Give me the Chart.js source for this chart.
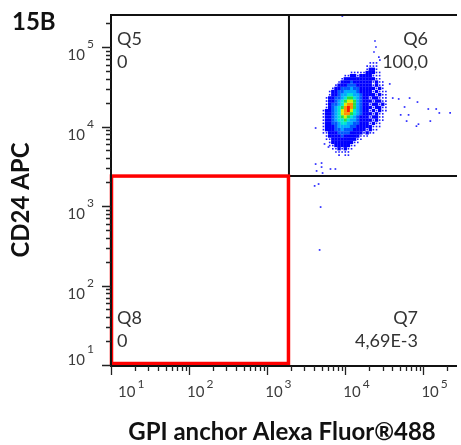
<!DOCTYPE html>
<html>
<head>
<meta charset="utf-8">
<script src="https://cdn.jsdelivr.net/npm/chart.js@4.4.0/dist/chart.umd.min.js"></script>
<style>
  html, body { margin: 0; padding: 0; background: #fff; }
  canvas { display: block; }
</style>
</head>
<body>
<canvas id="plot" width="461" height="445"></canvas>
<script>
// decades shown on both log axes
const decades = [10, 100, 1000, 10000, 100000];
const exponents = ['1', '2', '3', '4', '5'];

// quadrant gate (GPI x CD24)
const gateX = 1900;
const gateY = 2380;
const quadNames = ['Q5', 'Q6', 'Q7', 'Q8'];
const quadValues = ['0', '100,0', '4,69E-3', '0'];

// density grid: log10 start of first column / top row, step in decades
const gridX0 = 3.72;
const gridY0 = 4.80;
const gridStep = 0.04;
// 0/'.' = empty, 1 = sparse events, 2..9 = blue -> red
const densityRows = [
  '...............111',
  '..............1111',
  '..............1221',
  '.........1111122211',
  '.......112212222111',
  '......1222222222211',
  '.....122232222221211',
  '....1222333222221211',
  '...12233343322222121',
  '..1223344443222212111',
  '..1223445544322221211',
  '.12233456654322122111',
  '.12234567764322212211',
  '.12334578864322122121',
  '.12345689864322212211',
  '122345789754322121211',
  '12234578865432221211',
  '12234567654322212211',
  '12234556544322221211',
  '1223345544332221211',
  '1222344443322222111',
  '122233433322221211',
  '11222333322221211',
  '.12222322222111',
  '.112222222211',
  '..1222222211',
  '..112222211',
  '...1121211',
  '....11111',
  '.....1.11'
];

// single events outside the main population
const eventX = [9160, 24000, 24700, 23300, 26900, 27700, 37100, 40500, 48300, 66600, 84000, 57400,
  115600, 146000, 220000, 160000, 51200, 64600, 61000, 86500, 81500, 122700,
  5420, 6090, 4170, 4970, 4290, 5120, 6460, 7470, 4050, 4550, 4830, 4690, 4170, 4970];
const eventY = [245000, 119000, 100000, 86500, 74800, 68500, 34300, 22800, 22200, 22800, 20300, 17600,
  16600, 16600, 14800, 14800, 14000, 14000, 11700, 10700, 10100, 11700,
  6030, 5520, 3370, 3090, 2760, 2600, 2920, 2920, 1790, 1890, 970, 280, 9570, 3470];

const levelColors = ['', '#1a1aff', '#0000ff', '#0058ff', '#00aaff', '#00e6d2', '#28e040', '#d8f000', '#ff9000', '#ff1800'];

const datasets = [];
for (let lv = 1; lv <= 9; lv++) {
  const pts = [];
  densityRows.forEach((row, r) => {
    for (let c = 0; c < row.length; c++) {
      if (row[c] === String(lv)) {
        pts.push({ x: Math.pow(10, gridX0 + c * gridStep), y: Math.pow(10, gridY0 - r * gridStep) });
      }
    }
  });
  datasets.push({
    data: pts,
    pointStyle: 'rect',
    pointRadius: lv === 1 ? 1.15 : 2.35,
    borderWidth: 0,
    backgroundColor: levelColors[lv]
  });
}
datasets.unshift({
  data: eventX.map((v, i) => ({ x: v, y: eventY[i] })),
  pointStyle: 'rect',
  pointRadius: 1.2,
  borderWidth: 0,
  backgroundColor: '#2a2aff'
});

function logTicks(min, max) {
  const out = [];
  for (let e = 0; e <= 5; e++) {
    for (let k = 1; k <= 9; k++) {
      const v = k * Math.pow(10, e);
      if (v >= min && v <= max) out.push({ v: v, major: k === 1 });
    }
  }
  return out;
}

const flowAxes = {
  id: 'flowAxes',
  beforeDraw(chart) {
    const ctx = chart.ctx;
    ctx.save();
    ctx.fillStyle = '#fff';
    ctx.fillRect(0, 0, chart.width, chart.height);
    ctx.restore();
  },
  afterDatasetsDraw(chart) {
    const { ctx, chartArea: a, scales: { x, y } } = chart;
    const gx = x.getPixelForValue(gateX);
    const gy = y.getPixelForValue(gateY);
    ctx.save();
    // black quadrant lines
    ctx.strokeStyle = '#111';
    ctx.lineWidth = 2;
    ctx.beginPath();
    ctx.moveTo(gx, a.top);
    ctx.lineTo(gx, gy);
    ctx.lineTo(a.right, gy);
    ctx.stroke();
    // red Q8 gate
    ctx.strokeStyle = '#ff0000';
    ctx.lineWidth = 3.5;
    ctx.strokeRect(a.left + 0.5, gy, gx - 1 - a.left, a.bottom - 2.5 - gy);
    ctx.restore();
  },
  afterDraw(chart) {
    const { ctx, chartArea: a, scales: { x, y } } = chart;
    ctx.save();
    // frame
    ctx.strokeStyle = '#111';
    ctx.lineWidth = 2;
    ctx.beginPath();
    ctx.moveTo(a.right, a.top);
    ctx.lineTo(a.left, a.top);
    ctx.lineTo(a.left, a.bottom);
    ctx.lineTo(a.right, a.bottom);
    ctx.stroke();

    ctx.lineWidth = 1.3;
    ctx.strokeStyle = '#222';
    ctx.beginPath();
    logTicks(x.min, x.max).forEach(t => {
      const px = Math.round(x.getPixelForValue(t.v)) + 0.5;
      ctx.moveTo(px, a.bottom);
      ctx.lineTo(px, a.bottom + (t.major ? 9 : 5));
    });
    logTicks(y.min, y.max).forEach(t => {
      const py = Math.round(y.getPixelForValue(t.v)) + 0.5;
      ctx.moveTo(a.left, py);
      ctx.lineTo(a.left - (t.major ? 9 : 5), py);
    });
    ctx.stroke();

    // tick labels 10^n
    ctx.fillStyle = '#3c3c3c';
    ctx.textBaseline = 'alphabetic';
    decades.forEach((v, i) => {
      const px = x.getPixelForValue(v);
      const left = i === 0 ? px + 7 : px - 2;
      ctx.font = '15px Lato';
      ctx.textAlign = 'left';
      ctx.fillText('10', left, 397);
      const w = ctx.measureText('10').width;
      ctx.font = '12px Lato';
      ctx.fillText(exponents[i], left + w + 2, 388);

      const py = y.getPixelForValue(v);
      ctx.font = '15px Lato';
      ctx.textAlign = 'right';
      ctx.fillText('10', 85, i === 0 ? py : py + 13);
      ctx.font = '12px Lato';
      ctx.textAlign = 'left';
      ctx.fillText(exponents[i], 87, i === 0 ? py - 12 : py + 1);
    });

    // quadrant names and frequencies
    ctx.fillStyle = '#333';
    ctx.font = '18px Lato';
    ctx.textAlign = 'left';
    ctx.fillText(quadNames[0], a.left + 6, a.top + 30);
    ctx.fillText(quadValues[0], a.left + 6, a.top + 53);
    ctx.fillText(quadNames[3], a.left + 6, a.bottom - 42);
    ctx.fillText(quadValues[3], a.left + 6, a.bottom - 19);
    ctx.textAlign = 'right';
    ctx.fillText(quadNames[1], a.right - 29, a.top + 30);
    ctx.fillText(quadValues[1], a.right - 29, a.top + 53);
    ctx.fillText(quadNames[2], a.right - 39, a.bottom - 42);
    ctx.fillText(quadValues[2], a.right - 39, a.bottom - 19);

    // titles
    ctx.fillStyle = '#111';
    ctx.font = 'bold 24px Lato';
    ctx.textAlign = 'left';
    ctx.fillText('15B', 12, 30);
    ctx.textAlign = 'center';
    ctx.textBaseline = 'middle';
    ctx.fillText('GPI anchor Alexa Fluor®488', 282, 432);
    ctx.translate(21, 200);
    ctx.rotate(-Math.PI / 2);
    ctx.fillText('CD24 APC', 0, 0);
    ctx.restore();
  }
};

new Chart(document.getElementById('plot').getContext('2d'), {
  type: 'scatter',
  data: { datasets: datasets },
  options: {
    responsive: false,
    animation: false,
    layout: { padding: { left: 111, top: 15, right: 0, bottom: 79 } },
    scales: {
      x: { type: 'logarithmic', min: 10, max: 269400, display: false },
      y: { type: 'logarithmic', min: 9.714, max: 252700, display: false }
    },
    plugins: {
      legend: { display: false },
      tooltip: { enabled: false }
    }
  },
  plugins: [flowAxes]
});
</script>
</body>
</html>
